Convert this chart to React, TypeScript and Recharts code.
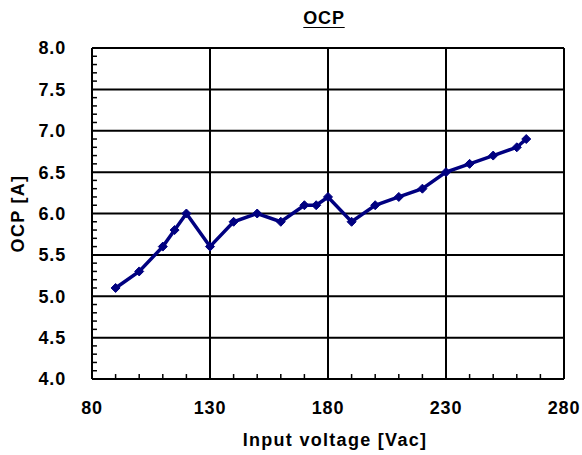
import { LineChart, Line, XAxis, YAxis, ReferenceLine } from "recharts";

// input voltage [Vac] vs over-current protection level [A]
const voltages = [90, 100, 110, 115, 120, 130, 140, 150, 160, 170, 175, 180, 190, 200, 210, 220, 230, 240, 250, 260, 264];
const ocp = [5.1, 5.3, 5.6, 5.8, 6.0, 5.6, 5.9, 6.0, 5.9, 6.1, 6.1, 6.2, 5.9, 6.1, 6.2, 6.3, 6.5, 6.6, 6.7, 6.8, 6.9];

const xTicks = [80, 130, 180, 230, 280];
const xMinor = [90, 100, 110, 120, 140, 150, 160, 170, 190, 200, 210, 220, 240, 250, 260, 270];
const xGrid = [130, 180, 230, 280];

const yTicks = [4.0, 4.5, 5.0, 5.5, 6.0, 6.5, 7.0, 7.5, 8.0];
const yMinor = [
  4.1, 4.2, 4.3, 4.4, 4.6, 4.7, 4.8, 4.9, 5.1, 5.2, 5.3, 5.4, 5.6, 5.7, 5.8, 5.9,
  6.1, 6.2, 6.3, 6.4, 6.6, 6.7, 6.8, 6.9, 7.1, 7.2, 7.3, 7.4, 7.6, 7.7, 7.8, 7.9,
];
const yGrid = [4.5, 5.0, 5.5, 6.0, 6.5, 7.0, 7.5, 8.0];

const data = voltages.map((v, i) => ({ v, ocp: ocp[i] }));

const font = '"Liberation Sans", Arial, sans-serif';
const tickStyle = { fontSize: 18, fontWeight: 700, fill: "#000", fontFamily: font, letterSpacing: 0.8 };

function Diamond(props: any) {
  const { cx, cy } = props;
  if (cx == null || cy == null) return null;
  const s = 4.5;
  return (
    <path
      d={`M${cx},${cy - s}L${cx + s},${cy}L${cx},${cy + s}L${cx - s},${cy}Z`}
      fill="#000080"
      stroke="#000080"
      strokeWidth={1}
    />
  );
}

export default function App() {
  return (
    <div style={{ position: "absolute", left: 0, top: 0, width: 582, height: 455, background: "#fff" }}>
      <div
        style={{
          position: "absolute",
          left: 0,
          width: 648,
          top: 8,
          textAlign: "center",
          fontFamily: font,
          fontWeight: 700,
          fontSize: 18,
          letterSpacing: 0.8,
          textDecoration: "underline",
          textUnderlineOffset: 3,
        }}
      >
        OCP
      </div>
      <LineChart width={582} height={455} data={data} margin={{ top: 48, right: 18, bottom: 0, left: 0 }}>
        <XAxis
          dataKey="v"
          type="number"
          domain={[80, 280]}
          ticks={xTicks}
          interval={0}
          tickLine={false}
          tickMargin={16}
          height={76}
          stroke="#000"
          strokeWidth={2}
          tick={tickStyle}
          label={{
            content: (p: any) => {
              const vb = p.viewBox || {};
              return (
                <text
                  x={vb.x + vb.width / 2 + 7}
                  y={446}
                  textAnchor="middle"
                  style={{ fontSize: 18, fontWeight: 700, fontFamily: font, letterSpacing: 1.3 }}
                  fill="#000"
                >
                  Input voltage [Vac]
                </text>
              );
            },
          }}
        />
        <YAxis
          type="number"
          domain={[4, 8]}
          ticks={yTicks}
          interval={0}
          width={92}
          tickLine={false}
          tickMargin={20}
          stroke="#000"
          strokeWidth={2}
          tick={tickStyle}
          tickFormatter={(t: number) => t.toFixed(1)}
          label={{
            content: (p: any) => {
              const vb = p.viewBox || {};
              const cy = vb.y + vb.height / 2;
              return (
                <text
                  x={24}
                  y={cy}
                  transform={`rotate(-90, 24, ${cy})`}
                  textAnchor="middle"
                  style={{ fontSize: 18, fontWeight: 700, fontFamily: font, letterSpacing: 1.3 }}
                  fill="#000"
                >
                  OCP [A]
                </text>
              );
            },
          }}
        />
        {yGrid.map((y) => (
          <ReferenceLine key={"h" + y} y={y} stroke="#000" strokeWidth={2} />
        ))}
        {xGrid.map((x) => (
          <ReferenceLine key={"v" + x} x={x} stroke="#000" strokeWidth={2} />
        ))}
        {xMinor.map((x) => (
          <ReferenceLine
            key={"mx" + x}
            segment={[{ x, y: 4 }, { x, y: 4.06 }]}
            stroke="#000"
            strokeWidth={1.5}
          />
        ))}
        {yMinor.map((y) => (
          <ReferenceLine
            key={"my" + y}
            segment={[{ x: 80, y }, { x: 82.1, y }]}
            stroke="#000"
            strokeWidth={1.5}
          />
        ))}
        <Line
          dataKey="ocp"
          stroke="#000080"
          strokeWidth={3.5}
          dot={<Diamond />}
          isAnimationActive={false}
        />
      </LineChart>
    </div>
  );
}
